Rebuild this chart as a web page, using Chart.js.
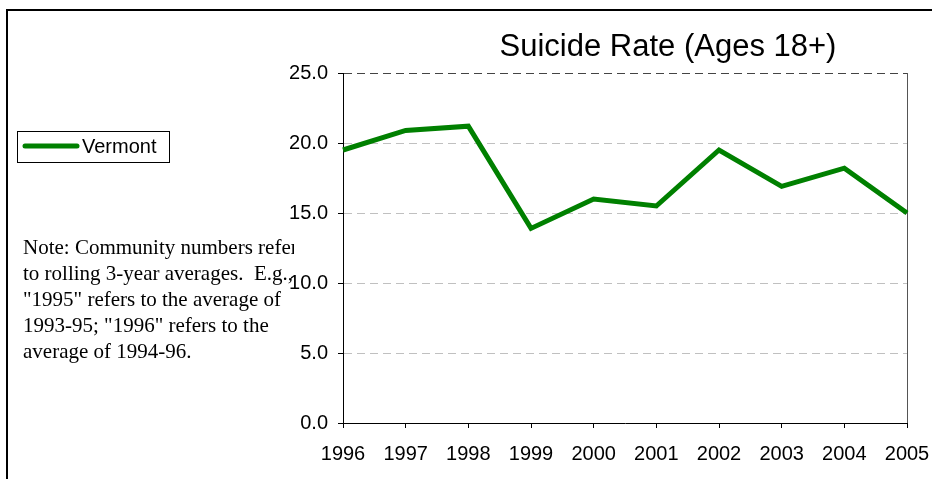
<!DOCTYPE html>
<html>
<head>
<meta charset="utf-8">
<script src="https://cdn.jsdelivr.net/npm/chart.js@4/dist/chart.umd.min.js"></script>
<style>
  html, body { margin: 0; padding: 0; background: #fff; }
  canvas { display: block; }
</style>
</head>
<body>
<canvas id="rateChart" width="932" height="479"></canvas>
<script>
// --- data ---
const years = ['1996', '1997', '1998', '1999', '2000', '2001', '2002', '2003', '2004', '2005'];
const vermont = [19.5, 20.9, 21.2, 13.9, 16.0, 15.5, 19.5, 16.9, 18.2, 15.0];
const seriesName = 'Vermont';
const chartTitle = 'Suicide Rate (Ages 18+)';
const noteLines = [
  'Note: Community numbers refer',
  'to rolling 3-year averages.  E.g.,',
  '"1995" refers to the average of',
  '1993-95; "1996" refers to the',
  'average of 1994-96.',
];

const GREEN = '#008000';
const SANS = '"Liberation Sans", Arial, sans-serif';
const SERIF = '"Liberation Serif", "Times New Roman", serif';

// white page, frame, title, legend box and note (Excel-style extras)
const decorations = {
  id: 'decorations',
  beforeDraw(chart) {
    const ctx = chart.ctx;
    ctx.save();
    ctx.fillStyle = '#fff';
    ctx.fillRect(0, 0, chart.width, chart.height);
    ctx.restore();
  },
  afterDraw(chart) {
    const ctx = chart.ctx;
    ctx.save();

    // outer frame (only top and left are inside the picture)
    ctx.strokeStyle = '#000';
    ctx.lineWidth = 2;
    ctx.beginPath();
    ctx.moveTo(7, chart.height + 2);
    ctx.lineTo(7, 10);
    ctx.lineTo(chart.width + 2, 10);
    ctx.stroke();

    // title
    ctx.fillStyle = '#000';
    ctx.font = '31px ' + SANS;
    ctx.textAlign = 'center';
    ctx.textBaseline = 'alphabetic';
    ctx.fillText(chartTitle, 668, 56);

    // legend box
    ctx.lineWidth = 1;
    ctx.strokeStyle = '#000';
    ctx.strokeRect(17.5, 131.5, 152, 31);
    ctx.strokeStyle = GREEN;
    ctx.lineWidth = 5;
    ctx.lineCap = 'round';
    ctx.beginPath();
    ctx.moveTo(25, 146);
    ctx.lineTo(77, 146);
    ctx.stroke();
    ctx.font = '20px ' + SANS;
    ctx.textAlign = 'left';
    ctx.textBaseline = 'middle';
    ctx.fillText(seriesName, 82, 147);

    // note, clipped like the text box in the original
    ctx.beginPath();
    ctx.rect(15, 230, 279, 140);
    ctx.clip();
    ctx.font = '21px ' + SERIF;
    ctx.textBaseline = 'alphabetic';
    noteLines.forEach((line, i) => ctx.fillText(line, 23, 254 + i * 26));

    ctx.restore();
  },
};

new Chart(document.getElementById('rateChart'), {
  type: 'line',
  data: {
    labels: years,
    datasets: [
      {
        label: seriesName,
        data: vermont,
        borderColor: GREEN,
        backgroundColor: GREEN,
        borderWidth: 5,
        pointRadius: 0,
        tension: 0,
        fill: false,
      },
    ],
  },
  options: {
    responsive: false,
    animation: false,
    devicePixelRatio: 1,
    layout: { padding: { left: 250, right: 25, top: 73, bottom: 0 } },
    plugins: {
      legend: { display: false },
      title: { display: false },
      tooltip: { enabled: false },
    },
    scales: {
      x: {
        offset: false,
        afterFit: (s) => {
          s.height = 56;
          s.paddingLeft = 0;
          s.paddingRight = 0;
        },
        grid: {
          drawOnChartArea: true,
          color: (c) => (c.index === years.length - 1 ? '#555' : 'rgba(0,0,0,0)'),
          tickColor: '#000',
          tickLength: 5,
        },
        border: { color: '#000', width: 1 },
        ticks: {
          color: '#000',
          font: { family: SANS, size: 20 },
          padding: 14,
          maxRotation: 0,
          autoSkip: false,
        },
      },
      y: {
        min: 0,
        max: 25,
        afterFit: (s) => { s.width = 93; },
        grid: {
          color: (c) => (c.tick && c.tick.value === 25 ? '#444' : '#c0c0c0'),
          tickColor: '#000',
          tickLength: 5,
        },
        border: { color: '#000', width: 1, dash: [8, 5] },
        ticks: {
          stepSize: 5,
          color: '#000',
          font: { family: SANS, size: 20 },
          padding: 10,
          callback: (v) => v.toFixed(1),
        },
      },
    },
  },
  plugins: [decorations],
});
</script>
</body>
</html>
